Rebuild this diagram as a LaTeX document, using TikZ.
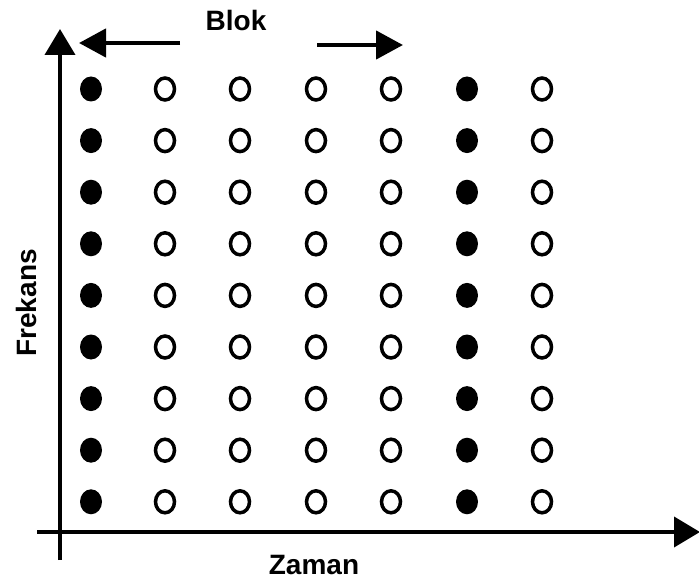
\documentclass[tikz,border=0pt]{standalone}
\usepackage{fontspec}
\setmainfont{Liberation Sans}
\usetikzlibrary{arrows.meta,shapes.geometric}
\begin{document}
\begin{tikzpicture}[x=1pt,y=-1pt,
  axis/.style={line width=4pt,-{Triangle[length=26pt,width=30pt]}},
  blokarrow/.style={line width=4.5pt,-{Triangle[length=27pt,width=28pt]}},
  pilot/.style={ellipse,fill=black,minimum width=22pt,minimum height=25pt,inner sep=0pt},
  datacell/.style={ellipse,draw=black,line width=3.5pt,minimum width=19pt,minimum height=22pt,inner sep=0pt},
  lbl/.style={font=\fontsize{28}{30}\selectfont\bfseries,inner sep=0pt}]
\useasboundingbox (0,0) rectangle (699,588);

% axes
\coordinate (yb) at (60,560);
\coordinate (yt) at (60,29);
\coordinate (xl) at (37,532);
\coordinate (xr) at (700,532);
\draw[axis] (yb) -- (yt);
\draw[axis] (xl) -- (xr);

% axis labels
\node[lbl] (zaman) at (314,565) {Zaman};
\node[lbl,rotate=90] (frekans) at (26,303) {Frekans};

% block width indicator
\node[lbl] (blok) at (236,20) {Blok};
\coordinate (bl0) at (180,43);
\coordinate (bl1) at (79,43);
\coordinate (br0) at (317,45);
\coordinate (br1) at (403,45);
\draw[blokarrow] (bl0) -- (bl1);
\draw[blokarrow] (br0) -- (br1);

% time-frequency grid: pilot columns filled, data columns open
\foreach \c/\x in {1/91,2/165,3/240,4/316,5/391,6/467,7/542}{
  \foreach \r in {0,...,8}{
    \pgfmathsetmacro{\yy}{89+51.6*\r}
    \ifnum\c=1
      \node[pilot] (d-\c-\r) at (\x,\yy) {};
    \else\ifnum\c=6
      \node[pilot] (d-\c-\r) at (\x,\yy) {};
    \else
      \node[datacell] (d-\c-\r) at (\x,\yy) {};
    \fi\fi
  }
}
\end{tikzpicture}
\end{document}
